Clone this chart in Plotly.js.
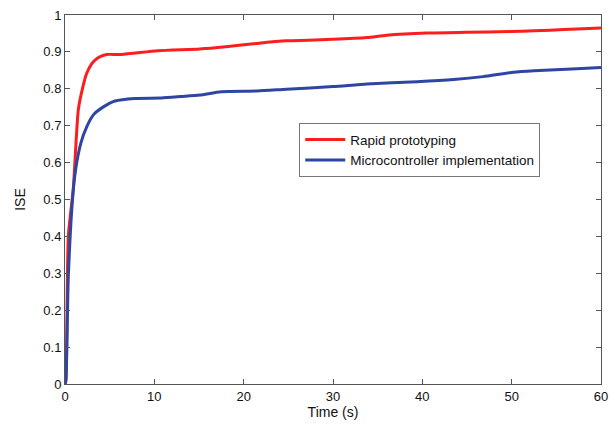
<!DOCTYPE html>
<html><head><meta charset="utf-8">
<script src="https://cdn.plot.ly/plotly-3.0.1.min.js"></script>
<style>html,body{margin:0;padding:0;background:#fff}#c{width:615px;height:432px}</style>
</head><body><div id="c"></div>
<script>
const redT = [0, 0.1, 0.37, 0.93, 1.49, 2.0, 2.43, 3.0, 3.36, 4.0, 4.67, 6.3, 10.4, 15.1, 18.0, 21.5, 24.8, 30.0, 33.8, 36.0, 40.5, 45.0, 49.8, 52.5, 54.3, 57.3, 60];
const redY = [0, 0.01, 0.40, 0.53, 0.743, 0.805, 0.842, 0.868, 0.878, 0.888, 0.893, 0.893, 0.903, 0.908, 0.914, 0.923, 0.930, 0.934, 0.939, 0.945, 0.951, 0.953, 0.955, 0.957, 0.959, 0.962, 0.965];
const blueT = [0, 0.1, 0.37, 0.93, 1.3, 1.8, 2.43, 3.2, 4.3, 5.6, 7.8, 10.8, 13.0, 15.1, 17.5, 21.5, 24.8, 30.0, 33.8, 39.4, 43.5, 46.8, 50.2, 52.5, 57.3, 60];
const blueY = [0, 0.01, 0.29, 0.526, 0.598, 0.655, 0.697, 0.73, 0.751, 0.767, 0.774, 0.775, 0.779, 0.783, 0.792, 0.794, 0.799, 0.806, 0.813, 0.819, 0.825, 0.833, 0.845, 0.849, 0.854, 0.858];
const names = ["Rapid prototyping", "Microcontroller implementation"];
const xTicks = [0, 10, 20, 30, 40, 50, 60];
const yTicks = [0, 0.1, 0.2, 0.3, 0.4, 0.5, 0.6, 0.7, 0.8, 0.9, 1];

const FONT = 'Liberation Sans, Arial, sans-serif';
const traces = [
  {x: redT, y: redY, name: names[0], mode: 'lines', line: {color: 'rgb(250,30,30)', width: 3, shape: 'spline', smoothing: 0.6}},
  {x: blueT, y: blueY, name: names[1], mode: 'lines', line: {color: 'rgb(45,70,165)', width: 3, shape: 'spline', smoothing: 0.6}}
];
const axisCommon = {showline: true, mirror: 'ticks', linecolor: '#555', linewidth: 1, ticks: 'inside', ticklen: 5, tickcolor: '#555', showgrid: false, zeroline: false, tickfont: {family: FONT, size: 13, color: '#111'}};
const layout = {
  width: 615, height: 432,
  margin: {l: 65, r: 14, t: 15, b: 48},
  paper_bgcolor: '#fff', plot_bgcolor: '#fff',
  showlegend: true,
  legend: {x: 0.437, y: 0.707, xanchor: 'left', yanchor: 'top', bordercolor: '#777', borderwidth: 1, bgcolor: '#fff', font: {family: FONT, size: 13.5, color: '#111'}, tracegroupgap: 0, itemwidth: 40},
  xaxis: Object.assign({}, axisCommon, {range: [0, 60], tickvals: xTicks, ticktext: xTicks.map(String), title: {text: 'Time (s)', font: {family: FONT, size: 14, color: '#111'}, standoff: 2}}),
  yaxis: Object.assign({}, axisCommon, {range: [0, 1], tickvals: yTicks, ticktext: yTicks.map(String), title: {text: 'ISE', font: {family: FONT, size: 14, color: '#111'}, standoff: 14}})
};
Plotly.newPlot('c', traces, layout, {displayModeBar: false, staticPlot: true});
</script>
</body></html>
